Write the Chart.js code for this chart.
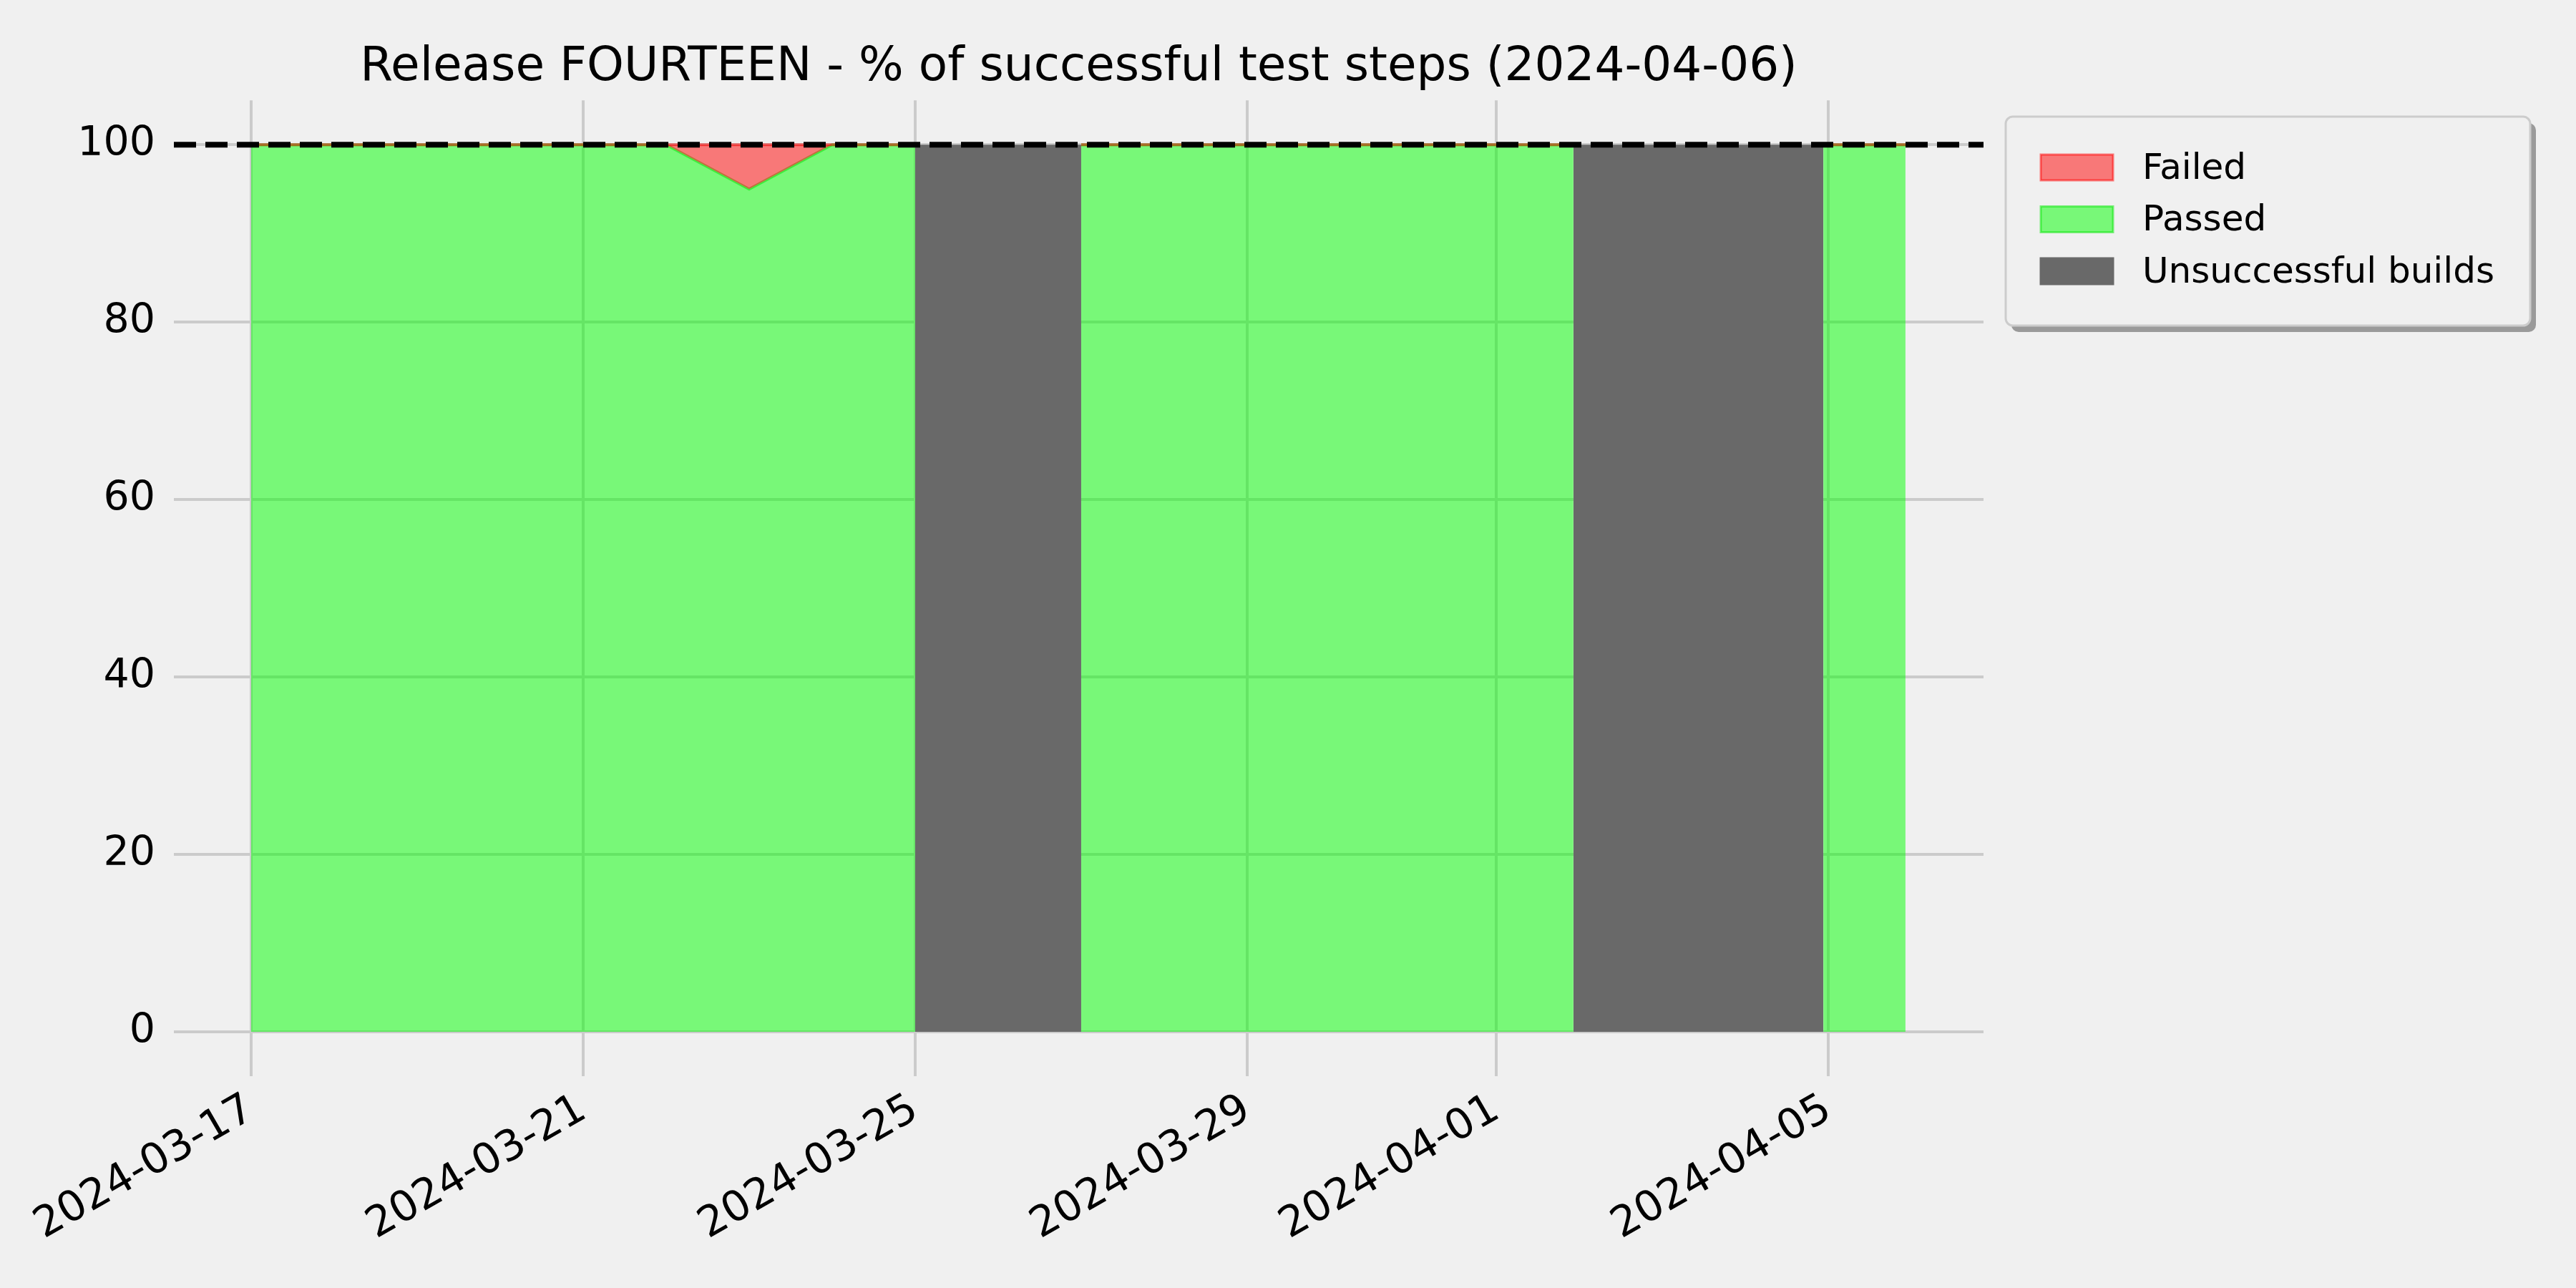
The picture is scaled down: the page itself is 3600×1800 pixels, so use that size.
<!DOCTYPE html>
<html>
<head>
<meta charset="utf-8">
<script src="https://cdn.jsdelivr.net/npm/chart.js@4.4.1/dist/chart.umd.min.js"></script>
<style>
  html, body { margin: 0; padding: 0; background: #f0f0f0; }
  canvas { display: block; }
</style>
</head>
<body>
<canvas id="releaseChart" width="3600" height="1800"></canvas>
<script>
// x positions are days counted from 2024-03-17
const runDays      = [0, 1, 2, 3, 4, 5, 6, 7, 8, 9, 10, 11, 12, 13, 14, 15, 15.93, 17, 18.94, 19.93];
const passedPct    = [100, 100, 100, 100, 100, 100, 95, 100, 100, null, 100, 100, 100, 100, 100, 100, 100, null, 100, 100];
const failedPct    = [0, 0, 0, 0, 0, 0, 5, 0, 0, null, 0, 0, 0, 0, 0, 0, 0, null, 0, 0];
const badBuildSpans = [[8, 10], [15.93, 18.94]];
const tickDays   = [0, 4, 8, 12, 15, 19];
const tickLabels = ["2024-03-17", "2024-03-21", "2024-03-25", "2024-03-29", "2024-04-01", "2024-04-05"];
const yTicks = [0, 20, 40, 60, 80, 100];
const targetPct = 100;
const xMin = -0.93, xMax = 20.87;

const FONT = "'DejaVu Sans', 'Liberation Sans', sans-serif";

const passedPoints = runDays.map((d, i) => ({ x: d, y: passedPct[i] }));
const failedPoints = runDays.map((d, i) => ({ x: d, y: passedPct[i] === null ? null : passedPct[i] + failedPct[i] }));
let badPoints = [];
badBuildSpans.forEach((s, i) => {
  if (i > 0) badPoints.push({ x: (badBuildSpans[i - 1][1] + s[0]) / 2, y: null });
  badPoints.push({ x: s[0], y: 100 }, { x: s[1], y: 100 });
});

// legend drawn by hand so it can sit outside the axes with a shadow
const boxLegend = {
  id: "boxLegend",
  afterDraw(chart) {
    const c = chart.ctx;
    const items = chart.data.datasets.filter(d => d.label);
    const x = 2803, y = 163, w = 733, h = 292, r = 10;
    c.save();
    c.fillStyle = "#9a9a9a";
    c.beginPath(); c.roundRect(x + 8, y + 9, w, h, r); c.fill();
    c.fillStyle = "#f0f0f0";
    c.strokeStyle = "#cccccc";
    c.lineWidth = 3;
    c.beginPath(); c.roundRect(x, y, w, h, r); c.fill(); c.stroke();
    c.font = "50px " + FONT;
    c.textBaseline = "middle";
    items.forEach((d, i) => {
      const cy = 234 + i * 72.5;
      c.fillStyle = "#f0f0f0";
      c.fillRect(2852, cy - 18, 101, 36);
      c.fillStyle = d.backgroundColor;
      c.fillRect(2852, cy - 18, 101, 36);
      c.strokeStyle = d.borderColor;
      c.lineWidth = 3;
      c.strokeRect(2852, cy - 18, 101, 36);
      c.fillStyle = "#000";
      c.fillText(d.label, 2994, cy + 3);
    });
    c.restore();
  }
};

new Chart(document.getElementById("releaseChart").getContext("2d"), {
  type: "line",
  data: {
    datasets: [
      { label: "Failed", data: failedPoints, fill: 1, order: 2,
        backgroundColor: "rgba(255,0,0,0.5)", borderColor: "rgba(255,0,0,0.5)", borderWidth: 4 },
      { label: "Passed", data: passedPoints, fill: "origin", order: 3,
        backgroundColor: "rgba(0,255,0,0.5)", borderColor: "rgba(0,230,0,0.5)", borderWidth: 4 },
      { label: "Unsuccessful builds", data: badPoints, fill: "origin", order: 1,
        backgroundColor: "#696969", borderColor: "#696969", borderWidth: 0 },
      { label: "", data: [{ x: xMin, y: targetPct }, { x: xMax, y: targetPct }], fill: false, order: 0,
        borderColor: "#000", borderWidth: 8, borderDash: [31, 13], borderCapStyle: "butt" }
    ]
  },
  options: {
    responsive: false,
    animation: false,
    devicePixelRatio: 1,
    layout: { padding: { left: 0, right: 828, top: 0, bottom: 0 } },
    elements: { point: { radius: 0 }, line: { tension: 0 } },
    plugins: {
      legend: { display: false },
      tooltip: { enabled: false },
      title: {
        display: true,
        fullSize: false,
        text: "Release FOURTEEN - % of successful test steps (2024-04-06)",
        color: "#000",
        font: { family: FONT, size: 66, weight: "normal" },
        padding: { top: 55, bottom: 6 }
      }
    },
    scales: {
      x: {
        type: "linear",
        min: xMin,
        max: xMax,
        afterBuildTicks: s => { s.ticks = tickDays.map(v => ({ value: v })); },
        afterFit: s => { s.height = 296; },
        ticks: {
          autoSkip: false,
          minRotation: 30,
          maxRotation: 30,
          padding: 12,
          color: "#000",
          font: { family: FONT, size: 59 },
          callback: v => tickLabels[tickDays.indexOf(v)]
        },
        grid: { color: "#cbcbcb", lineWidth: 4, drawTicks: false },
        border: { display: false }
      },
      y: {
        min: -5,
        max: 105,
        afterBuildTicks: s => { s.ticks = yTicks.map(v => ({ value: v })); },
        afterFit: s => { s.width = 243; },
        ticks: { padding: 26, color: "#000", font: { family: FONT, size: 57 } },
        grid: { color: "#cbcbcb", lineWidth: 4, drawTicks: false },
        border: { display: false }
      }
    }
  },
  plugins: [boxLegend]
});
</script>
</body>
</html>
